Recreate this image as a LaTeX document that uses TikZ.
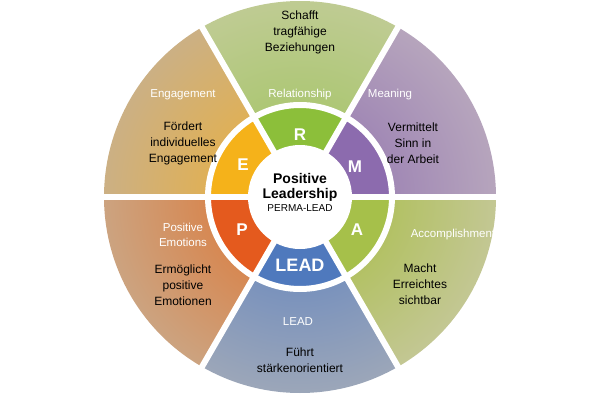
\documentclass[tikz,border=0pt]{standalone}
\usepackage{fontspec}
\setmainfont{Liberation Sans}
\begin{document}
\begin{tikzpicture}[x=1pt,y=1pt,
  blk/.style={align=center,font=\fontsize{12}{16}\selectfont,text=black},
  wht/.style={align=center,font=\fontsize{11.5}{15}\selectfont,text=white},
  let/.style={font=\bfseries\fontsize{17}{20}\selectfont,text=white}]
\useasboundingbox (-300,-203) rectangle (300,197);
\fill[white] (-300,-203) rectangle (300,197);
% outer sectors: start angle, inner color, outer color
\foreach \a/\ci/\co in {60/9DC35A/C2CC98, 0/8E6FAE/BAAABE, -60/A4BC3A/C6C89C, -120/5B80C0/A2AAB8, 180/E0702A/CAA888, 120/F0B030/C8B08C}{
  \definecolor{ci}{HTML}{\ci}\definecolor{co}{HTML}{\co}
  \begin{scope}
    \clip (0,0) -- (\a:196) arc[start angle=\a,end angle=\a+60,radius=196] -- cycle;
    \shade[inner color=ci,outer color=co] (0,0) circle (215);
  \end{scope}
}
% inner ring
\foreach \a/\c in {60/8CBF3A, 0/8C6BAE, -60/A6C04A, -120/4F79BD, 180/E45A1E, 120/F5B21A}{
  \definecolor{rc}{HTML}{\c}
  \fill[rc] (\a:50) -- (\a:90) arc[start angle=\a,end angle=\a+60,radius=90] -- (\a+60:50) arc[start angle=\a+60,end angle=\a,radius=50] -- cycle;
}
\foreach \a in {0,60,120,180,240,300}{
  \coordinate (g\a) at (\a:200);
  \coordinate (o) at (0,0);
  \draw[white,line width=6pt] (o) -- (g\a);
}
\draw[white,line width=6pt] (0,0) circle (92);
\node[circle,fill=white,minimum size=104pt,inner sep=0pt] (c) at (0,0) {};
\node[align=center,font=\bfseries\fontsize{14}{15}\selectfont] (cl) at (0,10) {Positive\\Leadership};
\node[font=\fontsize{10}{12}\selectfont] (cs) at (0,-11) {PERMA-LEAD};
% letters
\node[let] (lR) at (0,62) {R};
\node[let] (lM) at (55,30) {M};
\node[let] (lA) at (57,-33) {A};
\node[let,font=\bfseries\fontsize{18}{20}\selectfont] (lL) at (0,-68) {LEAD};
\node[let] (lP) at (-58,-33) {P};
\node[let] (lE) at (-57,32) {E};
% outer labels
\node[wht] (wR) at (0,102) {Relationship};
\node[wht] (wM) at (90,102) {Meaning};
\node[wht] (wA) at (153,-38) {Accomplishment};
\node[wht] (wL) at (-2,-125) {LEAD};
\node[wht] (wP) at (-117,-38) {Positive\\Emotions};
\node[wht] (wE) at (-117,102) {Engagement};
\node[blk] (bR) at (0,165) {Schafft\\tragfähige\\Beziehungen};
\node[blk] (bM) at (113,54) {Vermittelt\\Sinn in\\der Arbeit};
\node[blk] (bA) at (120,-87) {Macht\\Erreichtes\\sichtbar};
\node[blk] (bL) at (0,-163) {Führt\\stärkenorientiert};
\node[blk] (bP) at (-117,-88) {Ermöglicht\\positive\\Emotionen};
\node[blk] (bE) at (-117,54) {Fördert\\individuelles\\Engagement};
\end{tikzpicture}
\end{document}
